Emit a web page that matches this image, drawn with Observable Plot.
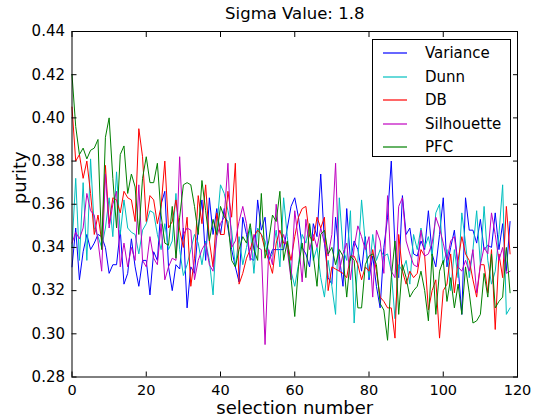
<!DOCTYPE html>
<html><head><meta charset="utf-8">
<script src="https://cdn.jsdelivr.net/npm/d3@7"></script>
<script src="https://cdn.jsdelivr.net/npm/@observablehq/plot@0.6"></script>
<style>
body{margin:0;background:#fff;}
#wrap{position:relative;width:535px;height:417px;font-family:"DejaVu Sans",sans-serif;}
#legend{position:absolute;left:372px;top:39px;width:139px;height:118px;border:1px solid #000;background:#fff;box-sizing:border-box;}
.row{position:absolute;left:0;height:20px;display:flex;align-items:center;font-size:15px;}
.row svg{margin-left:10px;margin-right:18px;display:block;}
</style>
</head><body><div id="wrap"><div id="legend"></div></div>
<script>
const seriesNames = ["Variance", "Dunn", "DB", "Silhouette", "PFC"];
const seriesColors = ["#0000ff", "#00bfbf", "#ff0000", "#bf00bf", "#008000"];
const xTicks = [0, 20, 40, 60, 80, 100, 120];
const yTicks = [0.28, 0.30, 0.32, 0.34, 0.36, 0.38, 0.40, 0.42, 0.44];
const titleText = "Sigma Value: 1.8";
const xLabel = "selection number";
const yLabel = "purity";

const variance = [0.331,0.349,0.325,0.338,0.346,0.339,0.342,0.346,0.345,0.340,0.328,0.332,0.332,0.348,0.323,0.328,0.344,0.331,0.322,0.334,0.334,
0.318,0.338,0.334,0.360,0.366,0.331,0.320,0.332,0.330,0.349,0.312,0.331,0.328,0.349,0.362,0.334,0.363,0.346,0.358,0.346,
0.358,0.349,0.339,0.331,0.324,0.354,0.346,0.335,0.334,0.362,0.348,0.354,0.334,0.339,0.339,0.339,0.339,0.349,0.359,0.363,
0.354,0.340,0.337,0.331,0.351,0.345,0.374,0.342,0.326,0.323,0.354,0.336,0.322,0.358,0.334,0.343,0.339,0.329,0.345,0.325,
0.336,0.322,0.312,0.340,0.354,0.380,0.340,0.326,0.364,0.346,0.349,0.337,0.336,0.343,0.339,0.357,0.337,0.331,0.346,0.363,
0.331,0.340,0.348,0.331,0.309,0.363,0.348,0.348,0.342,0.353,0.339,0.341,0.340,0.356,0.339,0.351,0.329,0.352];

const dunn = [0.340,0.372,0.334,0.370,0.334,0.381,0.349,0.345,0.340,0.349,0.363,0.345,0.375,0.346,0.362,0.349,0.347,0.346,0.337,0.348,0.351,
0.357,0.356,0.346,0.339,0.351,0.339,0.343,0.365,0.339,0.327,0.332,0.339,0.346,0.342,0.332,0.343,0.334,0.318,0.349,0.369,
0.365,0.357,0.348,0.331,0.345,0.332,0.340,0.349,0.328,0.349,0.346,0.343,0.334,0.337,0.348,0.331,0.363,0.345,0.329,0.322,
0.332,0.346,0.342,0.351,0.334,0.340,0.326,0.317,0.334,0.322,0.309,0.363,0.339,0.334,0.357,0.305,0.334,0.362,0.342,0.326,
0.346,0.334,0.339,0.336,0.337,0.329,0.307,0.332,0.329,0.334,0.323,0.346,0.339,0.349,0.340,0.345,0.336,0.356,0.360,0.332,
0.339,0.320,0.339,0.326,0.356,0.342,0.326,0.339,0.357,0.332,0.359,0.334,0.323,0.329,0.346,0.369,0.309,0.312];

const db = [0.405,0.380,0.383,0.372,0.380,0.365,0.346,0.355,0.343,0.378,0.351,0.363,0.362,0.356,0.366,0.363,0.362,0.352,0.395,0.382,0.352,
0.364,0.362,0.351,0.359,0.380,0.349,0.352,0.362,0.348,0.340,0.354,0.322,0.335,0.364,0.351,0.369,0.343,0.331,0.356,0.346,
0.346,0.366,0.354,0.379,0.323,0.328,0.335,0.339,0.345,0.348,0.346,0.339,0.334,0.328,0.342,0.348,0.342,0.342,0.334,0.345,
0.354,0.358,0.359,0.345,0.343,0.354,0.349,0.354,0.320,0.331,0.330,0.329,0.328,0.326,0.336,0.336,0.332,0.325,0.331,0.329,
0.339,0.329,0.317,0.315,0.312,0.312,0.298,0.346,0.329,0.323,0.329,0.326,0.328,0.339,0.336,0.311,0.320,0.325,0.298,0.320,
0.323,0.337,0.319,0.334,0.345,0.337,0.334,0.325,0.317,0.332,0.332,0.319,0.339,0.302,0.337,0.326,0.359,0.337];

const silhouette = [0.342,0.347,0.344,0.349,0.365,0.357,0.355,0.343,0.329,0.374,0.349,0.360,0.366,0.331,0.342,0.331,0.340,0.334,0.369,0.334,0.331,
0.345,0.335,0.332,0.351,0.325,0.331,0.335,0.334,0.382,0.346,0.349,0.348,0.325,0.334,0.339,0.342,0.332,0.329,0.345,0.351,
0.354,0.379,0.340,0.343,0.352,0.359,0.351,0.334,0.346,0.340,0.339,0.295,0.339,0.332,0.360,0.340,0.346,0.339,0.325,0.357,
0.343,0.324,0.353,0.339,0.346,0.340,0.349,0.342,0.336,0.346,0.379,0.329,0.337,0.342,0.325,0.340,0.350,0.345,0.339,0.345,
0.317,0.348,0.343,0.328,0.364,0.329,0.326,0.359,0.363,0.343,0.337,0.332,0.331,0.348,0.336,0.337,0.342,0.354,0.349,0.342,
0.334,0.343,0.345,0.331,0.329,0.334,0.329,0.339,0.319,0.332,0.340,0.337,0.356,0.346,0.334,0.340,0.328,0.329];

const pfc = [0.420,0.396,0.383,0.386,0.381,0.385,0.386,0.390,0.339,0.391,0.400,0.372,0.349,0.383,0.387,0.365,0.374,0.368,0.346,0.372,0.382,
0.370,0.370,0.379,0.355,0.342,0.341,0.359,0.335,0.354,0.369,0.370,0.369,0.359,0.346,0.371,0.357,0.343,0.353,0.346,0.359,
0.354,0.352,0.334,0.331,0.339,0.345,0.342,0.351,0.339,0.334,0.365,0.335,0.343,0.355,0.352,0.366,0.334,0.343,0.326,0.308,
0.331,0.342,0.326,0.351,0.336,0.322,0.346,0.348,0.337,0.340,0.332,0.339,0.336,0.317,0.336,0.334,0.312,0.312,0.332,0.336,
0.337,0.332,0.314,0.311,0.297,0.326,0.343,0.309,0.332,0.326,0.317,0.320,0.322,0.329,0.320,0.306,0.337,0.309,0.329,0.334,
0.315,0.326,0.312,0.323,0.309,0.331,0.319,0.305,0.306,0.309,0.328,0.317,0.337,0.312,0.315,0.317,0.340,0.319];

const seriesValues = [variance, dunn, db, silhouette, pfc];
const data = [];
seriesNames.forEach((name, k) => seriesValues[k].forEach((v, i) => data.push({series: name, x: i, y: v})));

const chart = Plot.plot({
  width: 535, height: 417,
  marginLeft: 71.5, marginRight: 18, marginTop: 31, marginBottom: 40.5,
  style: {fontFamily: "DejaVu Sans", fontSize: "15px", background: "white", color: "black"},
  x: {domain: [0, 120]},
  y: {domain: [0.28, 0.44]},
  color: {domain: seriesNames, range: seriesColors},
  marks: [
    Plot.line(data, {x: "x", y: "y", z: "series", stroke: "series", strokeWidth: 1}),
    Plot.frame({stroke: "black", strokeWidth: 1}),
    Plot.axisX({anchor: "bottom", ticks: xTicks, tickSize: -5, tickPadding: 12.5, label: null, tickFormat: d => d, fontSize: 14.5}),
    Plot.axisX({anchor: "top", ticks: xTicks, tickSize: -5, label: null, tickFormat: () => ""}),
    Plot.axisY({anchor: "left", ticks: yTicks, tickSize: -5, tickPadding: 12, label: null, tickFormat: d3.format(".2f"), fontSize: 15}),
    Plot.axisY({anchor: "right", ticks: yTicks, tickSize: -5, label: null, tickFormat: () => ""}),
    Plot.text([titleText], {frameAnchor: "top", dy: -18, lineAnchor: "middle", fontSize: 16.5}),
    Plot.text([xLabel], {frameAnchor: "bottom", dy: 31.5, lineAnchor: "middle", fontSize: 18}),
    Plot.text([yLabel], {frameAnchor: "left", dx: -52, rotate: -90, lineAnchor: "middle", fontSize: 18})
  ]
});
document.getElementById("wrap").prepend(chart);

const legend = document.getElementById("legend");
seriesNames.forEach((name, k) => {
  const row = document.createElement("div");
  row.className = "row";
  row.style.top = (3 + k * 23.5) + "px";
  const sw = d3.create("svg").attr("width", 24).attr("height", 4);
  sw.append("line").attr("x1", 0).attr("x2", 24).attr("y1", 2).attr("y2", 2)
    .attr("stroke", seriesColors[k]).attr("stroke-width", 1.2);
  const label = document.createElement("span");
  label.textContent = name;
  row.appendChild(sw.node()); row.appendChild(label);
  legend.appendChild(row);
});
</script>
</body></html>
